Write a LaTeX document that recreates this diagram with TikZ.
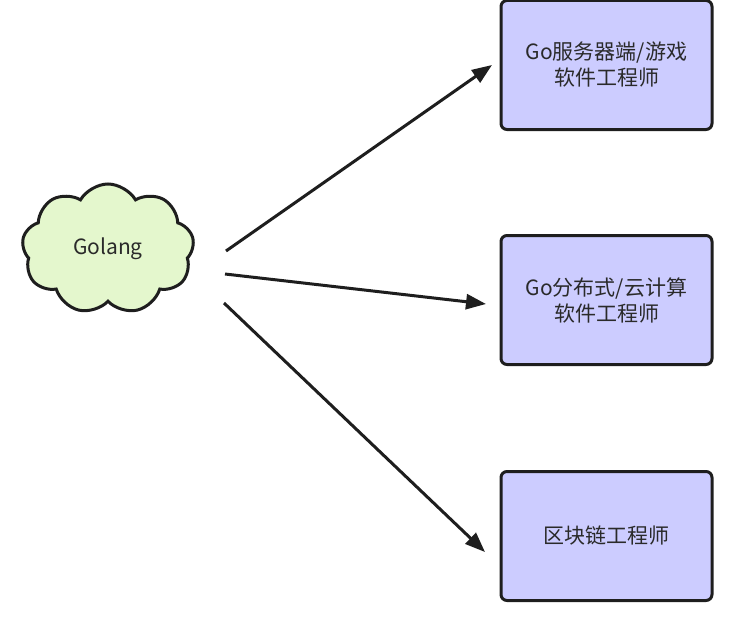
\documentclass[tikz,border=0pt]{standalone}
\usepackage{fontspec}
\setmainfont{Noto Sans CJK SC}
\usetikzlibrary{shapes.symbols,arrows.meta}
\definecolor{boxfill}{HTML}{CCCCFF}
\definecolor{cloudfill}{HTML}{E4F7CD}
\definecolor{edge}{HTML}{1E1E1E}
\definecolor{txt}{HTML}{2A2A2A}
\tikzset{
  rolebox/.style={draw=edge, line width=3pt, fill=boxfill, rounded corners=6pt,
    minimum width=211pt, minimum height=129pt, align=center, text=txt,
    font=\fontsize{21}{26}\selectfont},
  cloudnode/.style={cloud, cloud puffs=9, cloud puff arc=120, aspect=1.35, draw=edge, line width=3pt,
    fill=cloudfill, minimum width=172pt, minimum height=130pt, text=txt,
    font=\fontsize{21}{26}\selectfont},
  conn/.style={draw=edge, line width=3pt, -{Triangle[length=20pt,width=15pt]}}
}
\begin{document}
\begin{tikzpicture}[x=1pt,y=-1pt]
\useasboundingbox (0,0) rectangle (739,634);
\node[cloudnode] (golang) at (108,249) {Golang};
\node[rolebox] (b1) at (606.5,65) {Go服务器端/游戏\\软件工程师};
\node[rolebox] (b2) at (606.5,300) {Go分布式/云计算\\软件工程师};
\node[rolebox] (b3) at (606.5,536) {区块链工程师};
\coordinate (s1) at (226,251);
\coordinate (e1) at (492,65);
\coordinate (s2) at (225,274);
\coordinate (e2) at (486,304);
\coordinate (s3) at (224,303);
\coordinate (e3) at (485,552);
\draw[conn] (s1) -- (e1);
\draw[conn] (s2) -- (e2);
\draw[conn] (s3) -- (e3);
\end{tikzpicture}
\end{document}
